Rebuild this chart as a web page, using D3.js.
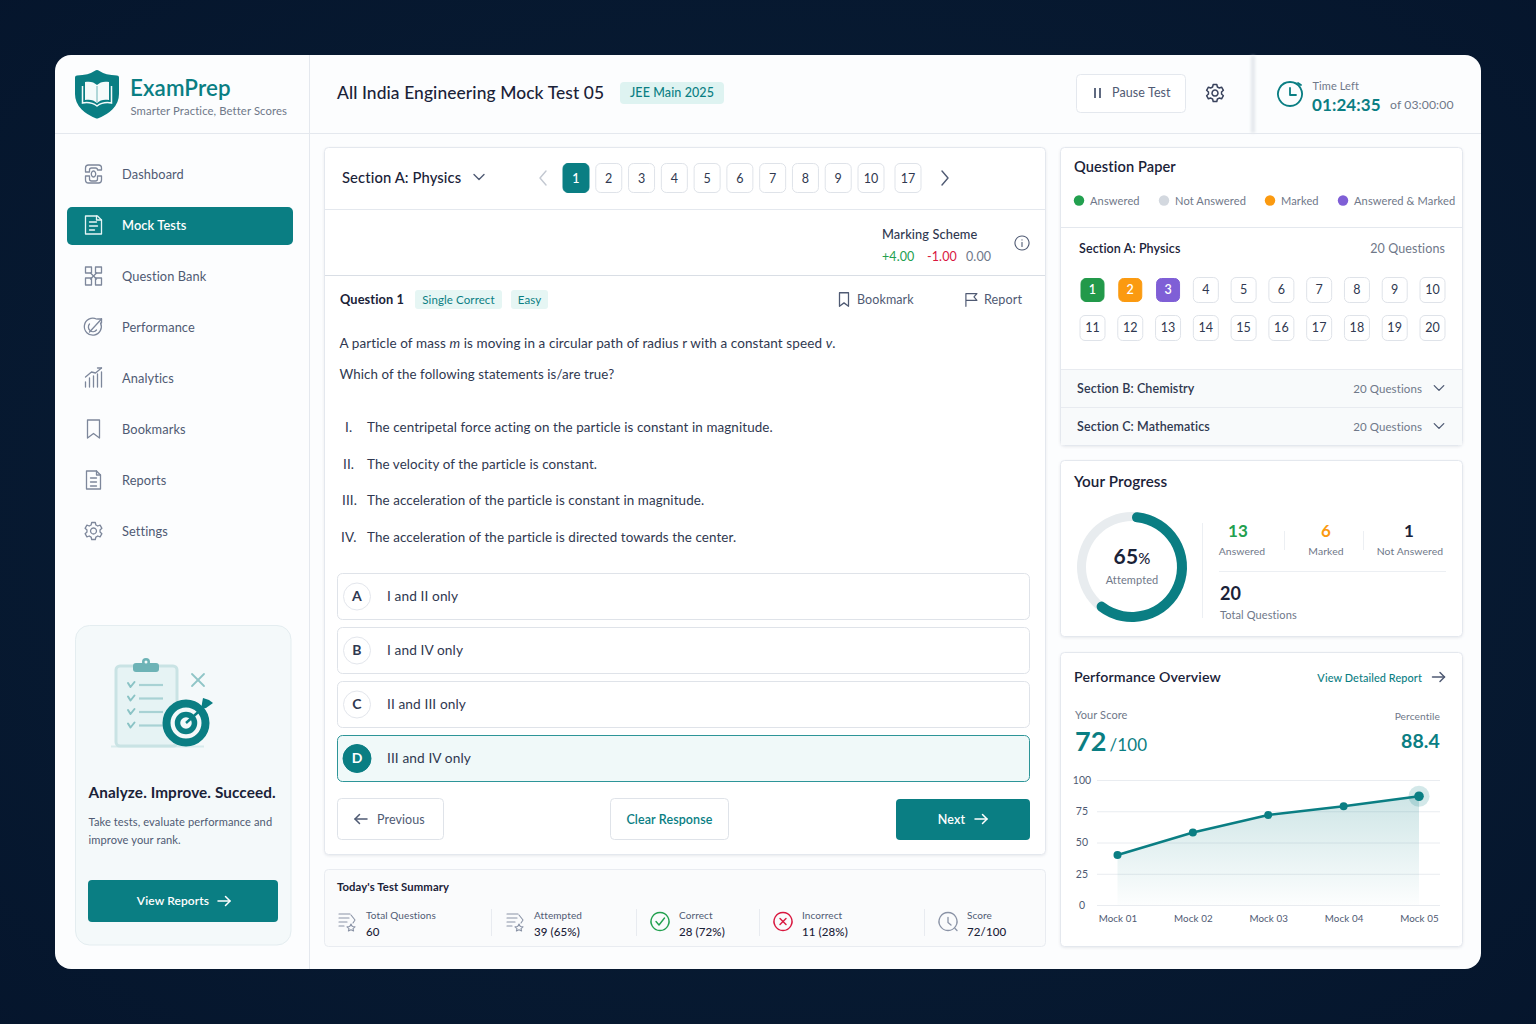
<!DOCTYPE html>
<html>
<head>
<meta charset="utf-8">
<title>ExamPrep</title>
<script src="https://cdn.jsdelivr.net/npm/d3@7"></script>
<style>
html,body{margin:0;padding:0;background:#06172e;overflow:hidden}
svg{display:block}
text{font-family:Lato,"Noto Sans",sans-serif;letter-spacing:.1px}
.axis path,.axis line{stroke:none}
</style>
</head>
<body>
<svg id="app" width="1536" height="1024"></svg>
<script>
// ---------------- data --------------------
var NAV_ITEMS = ["Dashboard","Mock Tests","Question Bank","Performance","Analytics","Bookmarks","Reports","Settings"];
var PAGE_NUMBERS = ["1","2","3","4","5","6","7","8","9","10","17"];
var STATEMENT_NUMS = ["I.","II.","III.","IV."];
var STATEMENTS = [
	"The centripetal force acting on the particle is constant in magnitude.",
	"The velocity of the particle is constant.",
	"The acceleration of the particle is constant in magnitude.",
	"The acceleration of the particle is directed towards the center."
];
var OPTION_KEYS = ["A","B","C","D"];
var OPTION_TEXTS = ["I and II only","I and IV only","II and III only","III and IV only"];
var SUMMARY_LABELS = ["Total Questions","Attempted","Correct","Incorrect","Score"];
var SUMMARY_VALUES = ["60","39 (65%)","28 (72%)","11 (28%)","72/100"];
var LEGEND_LABELS = ["Answered","Not Answered","Marked","Answered & Marked"];
var SECTION_NAMES = ["Section B: Chemistry","Section C: Mathematics"];
var QUESTION_NUMBERS = d3.range(1,21);
var PROGRESS_LABEL = 65;
var PROGRESS_ARC = 62; // the ring in the picture stops a bit short of its label
var STAT_VALUES = ["13","6","1"];
var STAT_LABELS = ["Answered","Marked","Not Answered"];
var MOCK_NAMES = ["Mock 01","Mock 02","Mock 03","Mock 04","Mock 05"];
var MOCK_SCORES = [40,58,72,79,87];
var SCORE_TICKS = [0,25,50,75,100];

// ---------------- styling constants --------------------
var TEAL = "#0a7e83", INK = "#1a2238", BODY = "#2f3850", SLATE = "#4f5a73", MUTED = "#6f7889", LINE = "#e4e8ee";
var GREEN = "#22a04f", ORANGE = "#fb9a10", PURPLE = "#7f5fd6", RED = "#d9173f", GREY_DOT = "#d3d8df";

var svg = d3.select("#app");
var defs = svg.append("defs");

// ---------------- helpers --------------------
function _text(g,s,x,y,size,color,weight,anchor){
	return g.append("text").text(s)
		.attr("x",x).attr("y",y)
		.style("font-size",size+"px")
		.style("fill",color||BODY)
		.style("font-weight",weight||400)
		.style("text-anchor",anchor||"start");
}
function _box(g,x0,y0,x1,y1,r,fill,stroke){
	return g.append("rect")
		.attr("x",x0).attr("y",y0).attr("width",x1-x0).attr("height",y1-y0).attr("rx",r)
		.attr("fill",fill||"none").attr("stroke",stroke||"none");
}
function _line(g,x0,y0,x1,y1,color,w){
	return g.append("line").attr("x1",x0).attr("y1",y0).attr("x2",x1).attr("y2",y1)
		.attr("stroke",color||LINE).attr("stroke-width",w||1);
}
// draws stroke-only icon paths centred on x,y (paths are in -12..12 space)
function _icon(g,paths,x,y,color,scale,w){
	var i = g.append("g").attr("transform","translate("+x+","+y+") scale("+(scale||1)+")")
		.attr("fill","none").attr("stroke",color||SLATE).attr("stroke-width",w||1.4)
		.attr("stroke-linecap","round").attr("stroke-linejoin","round");
	paths.forEach(function(p){ i.append("path").attr("d",p); });
	return i;
}
function _arrow(g,x,y,color,back){
	_icon(g,back ? ["M-6 0H6","M-1.5 -4.5L-6 0L-1.5 4.5"] : ["M-6 0H6","M1.5 -4.5L6 0L1.5 4.5"],x,y,color,1,1.5);
}
function _chevron(g,x,y,dir,color,size){
	var s = size||1;
	var d = dir=="down" ? "M-5 -2.5L0 2.5L5 -2.5" : dir=="left" ? "M3 -7L-3 0L3 7" : "M-3 -7L3 0L-3 7";
	_icon(g,[d],x,y,color,s,1.4);
}

var ICONS = {
	dashboard:["M-8 -2V-6a3 3 0 0 1 3-3H5a3 3 0 0 1 3 3V-4H4a2 2 0 0 0-2-2H-2a2 2 0 0 0-2 2V-2z","M-8 2H-4V5a2 2 0 0 0 2 2H2a2 2 0 0 0 2-2V2H8V6a3 3 0 0 1-3 3H-5a3 3 0 0 1-3-3z","M0 -3a2.2 3 0 1 0 .01 0z"],
	doc:["M-8 -9H4L8 -5V9H-8z","M3 -9V-5H8","M-4 -3H3","M-4 1H4","M-4 5H1"],
	bank:["M-8 -9H-2V-3H-8z","M2 -9H8V-3H2z","M-8 2H-2V9H-8z","M2 2H8V9H2z","M-3 -3L3 3","M3 -3L-3 3"],
	perf:["M7 -4A8.5 8.5 0 1 1 3 -8","M-4 5L8 -8","M8 -8V-4","M8 -8H4","M-4 -3A4.5 4.5 0 0 0 3 3"],
	analytics:["M-8 9V4","M-4 9V0","M0 9V-2","M4 9V-4","M8 9V-6","M-8 -1L-2 -6L2 -5L8 -10","M8 -10H4"],
	bookmark:["M-6 -9H6V9L0 4.5L-6 9z"],
	report:["M-7 -9H3L7 -5V9H-7z","M3 -9V-5H7","M-3 -2H3","M-3 2H3","M-3 6H3"],
	gear:["M-1.8 -8.5H1.8L2.4 -6A6.5 6.5 0 0 1 4.2 -5L6.6 -5.8L8.4 -2.7L6.5 -1A6.5 6.5 0 0 1 6.5 1L8.4 2.7L6.6 5.8L4.2 5A6.5 6.5 0 0 1 2.4 6L1.8 8.5H-1.8L-2.4 6A6.5 6.5 0 0 1 -4.2 5L-6.6 5.8L-8.4 2.7L-6.5 1A6.5 6.5 0 0 1 -6.5 -1L-8.4 -2.7L-6.6 -5.8L-4.2 -5A6.5 6.5 0 0 1 -2.4 -6z","M0 -3a3 3 0 1 0 .01 0z"],
	list:["M-8 -7H3","M-8 -3H2","M-8 1H0","M-8 5H-3","M4 -6L8 -1L6 2","M4 3L5.3 5.5L8 5.8L6 7.6L6.6 10L4 8.8L1.4 10L2 7.6L0 5.8L2.7 5.5z"]
};
var NAV_ICONS = ["dashboard","doc","bank","perf","analytics","bookmark","report","gear"];

// ---------------- background + shell --------------------
var bg = defs.append("radialGradient").attr("id","bg").attr("cx","50%").attr("cy","50%").attr("r","75%");
bg.append("stop").attr("offset","0").attr("stop-color","#0a2038");
bg.append("stop").attr("offset","1").attr("stop-color","#05152c");
svg.append("rect").attr("width",1536).attr("height",1024).attr("fill","url(#bg)");

var soft = defs.append("filter").attr("id","soft").attr("x","-10%").attr("y","-10%").attr("width","120%").attr("height","120%");
soft.append("feDropShadow").attr("dx",0).attr("dy",1).attr("stdDeviation",1.2).attr("flood-color","#51607a").attr("flood-opacity",.13);

var blur = defs.append("filter").attr("id","blur").attr("x","-300%").attr("width","700%");
blur.append("feGaussianBlur").attr("stdDeviation",1.6);

_box(svg,55,55,1481,969,16,"#fcfdfe");

var lay = svg.append("g");
_line(lay,309.5,55,309.5,969);
_line(lay,55,133.5,1481,133.5);

// ---------------- header --------------------
function drawHeader(){
	var g = svg.append("g").attr("id","header");
	// shield logo
	g.append("path")
		.attr("d","M97 72C103 76 110 77.5 117 77.5V94C117 105 108 112.5 97 116.5C86 112.5 77 105 77 94V77.5C84 77.5 91 76 97 72z")
		.attr("fill",TEAL).attr("stroke",TEAL).attr("stroke-width",4).attr("stroke-linejoin","round");
	g.append("path").attr("d","M85 82C90 81 94 82 97 85C100 82 104 81 109 82V100C104 99 100 100 97 103C94 100 90 99 85 100z")
		.attr("fill","#f5fbfb");
	_line(g,97,86,97,102,"#6db3b6",1);
	g.append("path").attr("d","M82.5 86V103C88 102 93 103 97 106C101 103 106 102 111.5 103V86")
		.attr("fill","none").attr("stroke","#f5fbfb").attr("stroke-width",1.5);
	_text(g,"ExamPrep",130,96,22.4,TEAL,600);
	_text(g,"Smarter Practice, Better Scores",130.5,115,11.3,MUTED);

	_text(g,"All India Engineering Mock Test 05",337,99,17.4,INK,500);
	_box(g,620,82,724,104,4,"#def3f1");
	_text(g,"JEE Main 2025",672,97,12.5,TEAL,500,"middle");

	_box(g,1076.5,74.5,1185.5,112.5,4,"#fff",LINE);
	_line(g,1095,88,1095,98,SLATE,1.8);
	_line(g,1100,88,1100,98,SLATE,1.8);
	_text(g,"Pause Test",1112,97,12.5,SLATE);
	_icon(g,ICONS.gear,1215,93,"#38425c",1,1.5);

	g.append("rect").attr("x",1251).attr("y",56).attr("width",4).attr("height",77).attr("fill","#e3e7ec").attr("filter","url(#blur)");

	_icon(g,["M0 -12A12 12 0 1 0 .01 -12z","M0 -6V1H6","M8 -11L11 -9"],1290,94,TEAL,1,1.8);
	_text(g,"Time Left",1312.5,90,11,MUTED);
	_text(g,"01:24:35",1312,111,17,TEAL,700);
	_text(g,"of 03:00:00",1390,109,12.2,MUTED);
}

// ---------------- sidebar --------------------
function drawSidebar(){
	var g = svg.append("g").attr("id","sidebar");
	var navY = d3.scalePoint().domain(NAV_ITEMS).range([174,531]);
	_box(g,67,207,293,245,5,TEAL);
	NAV_ITEMS.forEach(function(d,i){
		var active = d=="Mock Tests";
		_icon(g,ICONS[NAV_ICONS[i]],93.5,navY(d),active?"#e6f5f5":"#7d879b",1,1.3);
		_text(g,d,122,navY(d)+4.5,12.8,active?"#fff":SLATE,active?600:400);
	});

	_box(g,75.5,625.5,291,945,14,"#f4f9fa","#e4edf0");
	drawIllustration(g);
	_text(g,"Analyze. Improve. Succeed.",88.5,798,15.3,INK,700);
	_text(g,"Take tests, evaluate performance and",88.5,826,11.1,SLATE);
	_text(g,"improve your rank.",88.5,844,11.1,SLATE);
	_box(g,88,880,278,922,4,TEAL);
	_text(g,"View Reports",173,905,12,"#fff",600,"middle");
	_arrow(g,224,901,"#fff");
}

function drawIllustration(g){
	var pale = "#c9e3e4", mid = "#8ac3c5";
	_line(g,111,746.5,204,746.5,"#d8ebec",2);
	_box(g,116,666,177,746,4,"#e6f3f4",pale).attr("stroke-width",3);
	_box(g,133,663,159,672,3,"#6db3b6");
	g.append("circle").attr("cx",146).attr("cy",662).attr("r",4).attr("fill","#6db3b6");
	g.append("circle").attr("cx",146).attr("cy",662).attr("r",1.5).attr("fill","#f4f9fa");
	d3.range(4).forEach(function(i){
		var y = 685+i*13.5;
		_icon(g,["M-3 -2L-.5 2L3.5 -3"],131,y,mid,1,2);
		_line(g,139,y,163,y,"#a8d2d4",2.2);
	});
	_icon(g,["M-6 -6L6 6","M6 -6L-6 6"],198,680,"#8fc5c7",1,1.8);
	g.append("circle").attr("cx",186).attr("cy",723).attr("r",19.5).attr("fill","#f4f9fa").attr("stroke",TEAL).attr("stroke-width",8);
	g.append("circle").attr("cx",186).attr("cy",723).attr("r",8.5).attr("fill","none").attr("stroke",TEAL).attr("stroke-width",5.5);
	_line(g,186,723,206,705,TEAL,2.4);
	g.append("path").attr("d","M201 709L203 698L209 700L213 703L206 708z").attr("fill",TEAL);
}

// ---------------- question panel --------------------
function drawQuestion(){
	var g = svg.append("g").attr("id","question");
	_box(g,324.5,147.5,1045.5,854.5,4,"#fff",LINE).attr("filter","url(#soft)");

	_text(g,"Section A: Physics",342,183,14.8,INK,500);
	_chevron(g,479,177,"down",SLATE);
	_chevron(g,543,178,"left","#c3c8d1");
	_chevron(g,945,178,"right",SLATE);
	var pageX = d3.scaleLinear().domain([0,9]).range([576,871]);
	PAGE_NUMBERS.forEach(function(d,i){
		var cx = i<10 ? pageX(i) : 908, active = i==0;
		_box(g,cx-13,163.5,cx+13,192.5,5,active?TEAL:"#fff",active?TEAL:"#dfe3e9");
		_text(g,d,cx,182.5,12.5,active?"#fff":BODY,active?600:400,"middle");
	});
	_line(g,325,209.5,1045,209.5);

	_text(g,"Marking Scheme",882,239,12.8,BODY,500);
	_text(g,"+4.00",882,261,12.5,GREEN);
	_text(g,"-1.00",927,261,12.5,RED);
	_text(g,"0.00",966,261,12.5,MUTED);
	_icon(g,["M0 -7A7 7 0 1 0 .01 -7z","M0 -.5V3.5","M0 -3.2V-3"],1022,243,SLATE,1,1.1);
	_line(g,325,275.5,1045,275.5,"#d9dee5");

	_text(g,"Question 1",340,304,12.8,INK,700);
	_box(g,415,290,502,309,3,"#e6f6f4");
	_text(g,"Single Correct",458.5,303.5,11.5,TEAL,400,"middle");
	_box(g,511,290,548,309,3,"#e6f6f4");
	_text(g,"Easy",529.5,303.5,11.5,TEAL,400,"middle");
	_icon(g,ICONS.bookmark,844,299.5,SLATE,.75,1.7);
	_text(g,"Bookmark",857,304,12.5,SLATE);
	_icon(g,["M-6 8V-7H7L3.5 -3L7 1H-6"],971,299.5,SLATE,.85,1.4);
	_text(g,"Report",984,304,12.6,SLATE);

	var t1 = _text(g,"A particle of mass ",339.5,348,13.5,BODY);
	t1.append("tspan").text("m").style("font-style","italic");
	t1.append("tspan").text(" is moving in a circular path of radius r with a constant speed ");
	t1.append("tspan").text("v").style("font-style","italic");
	t1.append("tspan").text(".");
	_text(g,"Which of the following statements is/are true?",339.5,379,13.3,BODY);

	var stY = d3.scalePoint().domain(STATEMENTS).range([432,542]);
	var numX = [345,343,342,341];
	STATEMENTS.forEach(function(d,i){
		_text(g,STATEMENT_NUMS[i],numX[i],stY(d),13.5,BODY);
		_text(g,d,367,stY(d),13.4,BODY);
	});

	var optY = d3.scalePoint().domain(OPTION_KEYS).range([596.5,758.5]);
	OPTION_KEYS.forEach(function(k,i){
		var cy = optY(k), sel = k=="D";
		_box(g,337.5,cy-23,1029.5,cy+23,5,sel?"#f0f9f9":"#fff",sel?"#2d9598":"#dfe3e9");
		g.append("circle").attr("cx",357).attr("cy",cy).attr("r",sel?14:13.5)
			.attr("fill",sel?TEAL:"#fff").attr("stroke",sel?TEAL:"#e3e6ec");
		_text(g,k,357,cy+4.5,14,sel?"#fff":BODY,700,"middle");
		_text(g,OPTION_TEXTS[i],387,cy+4.5,13.7,BODY);
	});

	_box(g,337.5,798.5,443.5,839.5,4,"#fff","#dfe3e9");
	_arrow(g,361,819,SLATE,true);
	_text(g,"Previous",377,823.5,12.5,SLATE);
	_box(g,610.5,798.5,728.5,839.5,4,"#fff","#dfe3e9");
	_text(g,"Clear Response",669.5,823.5,12.5,TEAL,600,"middle");
	_box(g,896,799,1030,840,4,TEAL);
	_text(g,"Next",951.5,823.5,12.5,"#fff",600,"middle");
	_arrow(g,981,819,"#fff");
}

// ---------------- summary strip --------------------
function drawSummary(){
	var g = svg.append("g").attr("id","summary");
	var iconX = [347,515,660,783,948], textX = [366,534,679,802,967], divX = [491.5,636.5,759.5,924.5];
	_box(g,324.5,869.5,1045.5,946.5,4,"#fafbfc","#e9ecf1");
	_text(g,"Today's Test Summary",337,891,11.3,INK,700);
	divX.forEach(function(x){ _line(g,x,909,x,936,"#e8ebf0"); });
	SUMMARY_LABELS.forEach(function(d,i){
		_text(g,d,textX[i],918.5,10,SLATE);
		_text(g,SUMMARY_VALUES[i],textX[i],936,11.5,INK,500);
		if (i<2) _icon(g,ICONS.list,iconX[i],921,"#8a93a6",1,1.1);
	});
	_icon(g,["M0 -9A9 9 0 1 0 .01 -9z","M-4 0L-1 3.5L4.5 -3.5"],iconX[2],921.5,GREEN,1,1.4);
	_icon(g,["M0 -9A9 9 0 1 0 .01 -9z","M-3 -3L3 3","M3 -3L-3 3"],iconX[3],921.5,RED,1,1.4);
	_icon(g,["M0 -9A9 9 0 1 0 .01 -9z","M0 -4V1L3 3.5","M7 7L9 9"],iconX[4],921.5,"#8a93a6",1,1.3);
}

// ---------------- question paper --------------------
function drawPaper(){
	var g = svg.append("g").attr("id","paper");
	var dotColors = [GREEN,GREY_DOT,ORANGE,PURPLE], dotX = [1079,1164,1270,1343];
	_box(g,1060.5,147.5,1462.5,445.5,4,"#fff",LINE).attr("filter","url(#soft)");
	_text(g,"Question Paper",1074,172,14.6,INK,600);
	LEGEND_LABELS.forEach(function(d,i){
		g.append("circle").attr("cx",dotX[i]).attr("cy",200.5).attr("r",5.2).attr("fill",dotColors[i]);
		_text(g,d,dotX[i]+11,205,11.1,MUTED);
	});
	_line(g,1061,227.5,1462,227.5);
	_text(g,"Section A: Physics",1079,252.5,12.5,INK,600);
	_text(g,"20 Questions",1445,252.5,12.5,MUTED,400,"end");

	var col = d3.scaleLinear().domain([0,9]).range([1092.5,1432.5]);
	var row = d3.scaleLinear().domain([0,1]).range([290,328]);
	var fills = {1:"#22994a",2:ORANGE,3:PURPLE};
	QUESTION_NUMBERS.forEach(function(n){
		var i = (n-1)%10, j = Math.floor((n-1)/10), cx = col(i), cy = row(j), f = fills[n];
		var s = f ? 11.5 : 12.5;
		_box(g,cx-s,cy-s,cx+s,cy+s,5,f||"#fff",f||"#dfe3e9");
		_text(g,n,cx,cy+4,12.5,f?"#fff":BODY,f?600:400,"middle");
	});

	var secY = d3.scalePoint().domain(SECTION_NAMES).range([369,407]);
	SECTION_NAMES.forEach(function(d){
		var y = secY(d);
		_box(g,1061,y,1462,y+38,0,"#f8fafb");
		_line(g,1061,y+.5,1462,y+.5,"#e8ebf0");
		_text(g,d,1077,y+24,12.5,BODY,600);
		_text(g,"20 Questions",1422,y+24,11.5,MUTED,400,"end");
		_chevron(g,1439,y+19,"down",SLATE,.95);
	});
}

// ---------------- progress --------------------
function drawProgress(){
	var g = svg.append("g").attr("id","progress");
	_box(g,1060.5,460.5,1462.5,636.5,4,"#fff",LINE).attr("filter","url(#soft)");
	_text(g,"Your Progress",1074,487,15.2,INK,600);

	var ring = g.append("g").attr("transform","translate(1132,567)");
	ring.append("path")
		.attr("d",d3.arc()({innerRadius:46,outerRadius:55,startAngle:0,endAngle:2*Math.PI}))
		.attr("fill","#e8ecef");
	var pct = d3.scaleLinear().domain([0,100]).range([0,2*Math.PI]);
	ring.append("path")
		.attr("d",d3.arc().cornerRadius(5)({innerRadius:45,outerRadius:55,startAngle:0,endAngle:pct(PROGRESS_ARC)}))
		.attr("fill",TEAL);
	var t = _text(g,PROGRESS_LABEL,1132,564,21,INK,700,"middle");
	t.append("tspan").text("%").style("font-size","15px").style("font-weight",500);
	_text(g,"Attempted",1132,584,11,MUTED,400,"middle");

	_line(g,1202.5,523,1202.5,618,"#eceff3");
	var valX = [1238,1326,1409], labX = [1242,1326,1410], colors = [GREEN,ORANGE,INK];
	STAT_VALUES.forEach(function(d,i){
		_text(g,d,valX[i],537,17,colors[i],700,"middle");
		_text(g,STAT_LABELS[i],labX[i],555,10.4,MUTED,400,"middle");
	});
	_line(g,1284.5,531,1284.5,550,"#eceff3");
	_line(g,1363.5,531,1363.5,550,"#eceff3");
	_line(g,1219,571.5,1446,571.5,"#eceff3");
	_text(g,QUESTION_NUMBERS.length,1220,600,18,INK,700);
	_text(g,"Total Questions",1220,619,11,MUTED);
}

// ---------------- performance chart --------------------
function drawPerformance(){
	var g = svg.append("g").attr("id","performance");
	_box(g,1060.5,652.5,1462.5,946.5,4,"#fff",LINE).attr("filter","url(#soft)");
	_text(g,"Performance Overview",1074,682,14.2,INK,600);
	_text(g,"View Detailed Report",1422,682,10.9,TEAL,500,"end");
	_arrow(g,1438.5,677,SLATE);
	_text(g,"Your Score",1075,719,11,MUTED);
	var sc = _text(g,"72",1075,751,27,TEAL,700);
	sc.append("tspan").text("/100").attr("dx",3).style("font-size","17px").style("font-weight",400);
	_text(g,"Percentile",1440,720,10.2,MUTED,400,"end");
	_text(g,"88.4",1440,748,19.5,TEAL,700,"end");

	var x = d3.scalePoint().domain(MOCK_NAMES).range([1117.5,1419]);
	var y = d3.scaleLinear().domain([0,100]).range([905,780]);

	var yAxis = d3.axisLeft(y).tickValues(SCORE_TICKS).tickSize(0).tickPadding(0);
	var ya = g.append("g").attr("class","axis").attr("transform","translate(1082,0)").call(yAxis);
	ya.selectAll("text").style("font-size","10.5px").style("fill",SLATE).style("text-anchor","middle");

	g.append("g").selectAll("line").data(SCORE_TICKS).enter().append("line")
		.attr("x1",1097).attr("x2",1440)
		.attr("y1",function(d){return y(d)+.5;}).attr("y2",function(d){return y(d)+.5;})
		.attr("stroke","#e9ecf0");

	var xAxis = d3.axisBottom(x).tickSize(0).tickPadding(0);
	var xa = g.append("g").attr("class","axis").attr("transform","translate(0,915)").call(xAxis);
	xa.selectAll("text").style("font-size","9.8px").style("fill",SLATE);

	var grad = defs.append("linearGradient").attr("id","areaFill").attr("x1",0).attr("x2",0).attr("y1",0).attr("y2",1);
	grad.append("stop").attr("offset","0").attr("stop-color",TEAL).attr("stop-opacity",.2);
	grad.append("stop").attr("offset","1").attr("stop-color",TEAL).attr("stop-opacity",.01);

	g.append("path").datum(MOCK_SCORES)
		.attr("d",d3.area().x(function(d,i){return x(MOCK_NAMES[i]);}).y0(y(0)).y1(function(d){return y(d);}))
		.attr("fill","url(#areaFill)");
	g.append("path").datum(MOCK_SCORES)
		.attr("d",d3.line().x(function(d,i){return x(MOCK_NAMES[i]);}).y(function(d){return y(d);}))
		.attr("fill","none").attr("stroke",TEAL).attr("stroke-width",2.4);

	var last = MOCK_SCORES.length-1;
	g.append("circle").attr("cx",x(MOCK_NAMES[last])).attr("cy",y(MOCK_SCORES[last])).attr("r",10.5).attr("fill",TEAL).attr("opacity",.18);
	g.append("g").selectAll("circle").data(MOCK_SCORES).enter().append("circle")
		.attr("cx",function(d,i){return x(MOCK_NAMES[i]);})
		.attr("cy",function(d){return y(d);})
		.attr("r",function(d,i){return i==last?4.8:4;})
		.attr("fill",TEAL);
}

drawHeader();
drawSidebar();
drawQuestion();
drawSummary();
drawPaper();
drawProgress();
drawPerformance();
</script>
</body>
</html>
